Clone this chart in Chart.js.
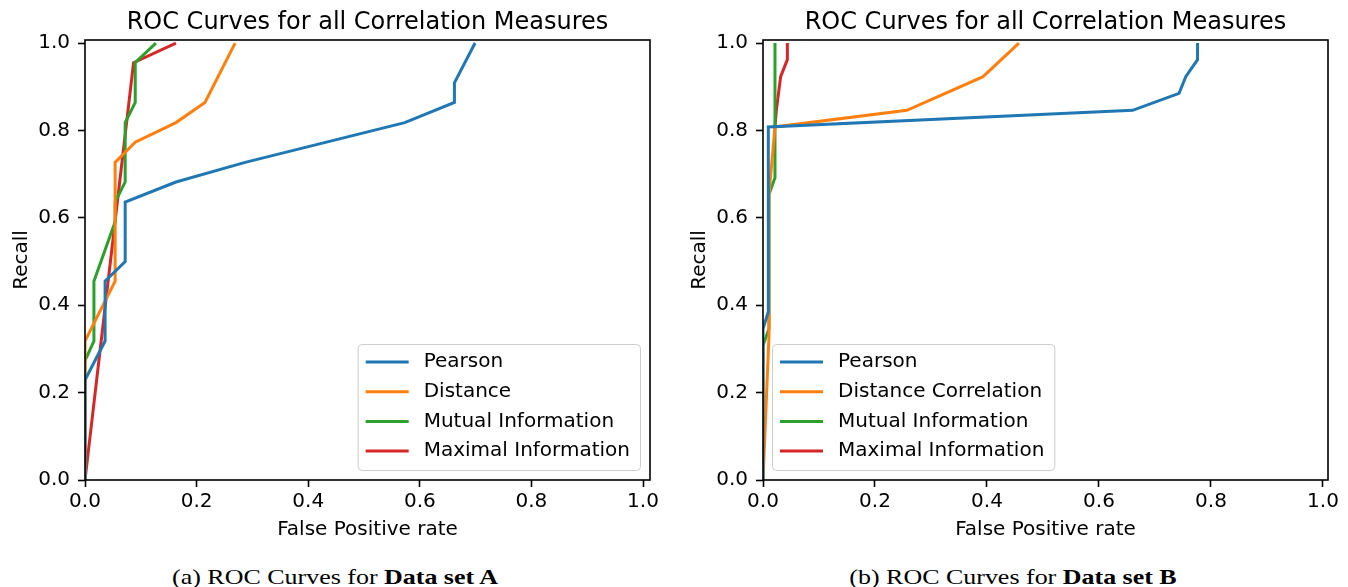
<!DOCTYPE html>
<html>
<head>
<meta charset="utf-8">
<script src="https://cdn.jsdelivr.net/npm/chart.js@4.4.1/dist/chart.umd.min.js"></script>
<style>
  body { margin: 0; background: #fff; width: 1348px; height: 587px; position: relative; overflow: hidden; }
  canvas { position: absolute; top: 0; }
  .caption {
    position: absolute; top: 564px; font-family: "Liberation Serif", serif; font-size: 22px;
    color: #000; white-space: nowrap; transform: translateX(-50%) scaleX(1.18); transform-origin: center;
  }
</style>
</head>
<body>
<canvas id="rocA" width="674" height="550" style="left:0px"></canvas>
<canvas id="rocB" width="670" height="550" style="left:678px"></canvas>
<div class="caption" style="left:335px">(a) ROC Curves for <b>Data set A</b></div>
<div class="caption" style="left:1013px">(b) ROC Curves for <b>Data set B</b></div>
<script>
// Tick labels shared by both panels
const fprTicks = [0.0, 0.2, 0.4, 0.6, 0.8, 1.0];
const recallTicks = [0.0, 0.2, 0.4, 0.6, 0.8, 1.0];

// Series names
const labelsA = ['Pearson', 'Distance', 'Mutual Information', 'Maximal Information'];
const labelsB = ['Pearson', 'Distance Correlation', 'Mutual Information', 'Maximal Information'];
const colors = ['#1f77b4', '#ff7f0e', '#2ca02c', '#d62728'];

// Data set A
const pearsonA_fpr = [0, 0, 0.036, 0.036, 0.072, 0.072, 0.163, 0.287, 0.573, 0.662, 0.662, 0.699];
const pearsonA_rec = [0, 0.229, 0.318, 0.455, 0.5, 0.636, 0.682, 0.727, 0.818, 0.864, 0.909, 1.0];
const distanceA_fpr = [0, 0, 0.054, 0.054, 0.09, 0.163, 0.215, 0.269];
const distanceA_rec = [0, 0.318, 0.455, 0.727, 0.773, 0.818, 0.864, 1.0];
const mutualA_fpr = [0, 0, 0.016, 0.016, 0.054, 0.054, 0.072, 0.072, 0.09, 0.09, 0.127];
const mutualA_rec = [0, 0.273, 0.318, 0.455, 0.591, 0.636, 0.682, 0.818, 0.864, 0.955, 1.0];
const maximalA_fpr = [0, 0.087, 0.163];
const maximalA_rec = [0, 0.955, 1.0];

// Data set B
const pearsonB_fpr = [0, 0, 0.0095, 0.0095, 0.66, 0.743, 0.755, 0.776, 0.776];
const pearsonB_rec = [0, 0.346, 0.385, 0.808, 0.846, 0.885, 0.923, 0.962, 1.0];
const distanceB_fpr = [0, 0.0107, 0.0107, 0.0161, 0.0214, 0.257, 0.393, 0.457];
const distanceB_rec = [0, 0.33, 0.654, 0.731, 0.808, 0.846, 0.923, 1.0];
const mutualB_fpr = [0, 0, 0.0107, 0.0107, 0.0214, 0.0214];
const mutualB_rec = [0, 0.308, 0.346, 0.654, 0.692, 1.0];
const maximalB_fpr = [0.0214, 0.0238, 0.0315, 0.0435, 0.0435];
const maximalB_rec = [0.808, 0.846, 0.923, 0.962, 1.0];

const FONT = '"DejaVu Sans", sans-serif';

function toPoints(xs, ys) {
    return xs.map((x, i) => ({ x: x, y: ys[i] }));
}

// Axes frame drawn on top of the curves, like matplotlib spines
const framePlugin = {
    id: 'frame',
    afterDatasetsDraw(chart) {
        const { ctx, chartArea: ca } = chart;
        ctx.save();
        ctx.strokeStyle = '#000';
        ctx.lineWidth = 1.6;
        ctx.strokeRect(ca.left, ca.top, ca.right - ca.left, ca.bottom - ca.top);
        ctx.restore();
    }
};

// Boxed legend inside the plot area
const boxLegendPlugin = {
    id: 'boxLegend',
    afterDraw(chart) {
        const opts = chart.options.plugins.boxLegend;
        const { ctx, chartArea: ca } = chart;
        const sets = chart.data.datasets;
        ctx.save();
        ctx.font = '20px ' + FONT;
        const maxW = Math.max(...sets.map(d => ctx.measureText(d.label).width));
        const w = 8 + 43 + 15 + maxW + 10;
        const h = 126;
        const x = opts.loc === 'lower right' ? ca.right - 10 - w : ca.left + 9;
        const y = ca.bottom - 10 - h;
        ctx.beginPath();
        ctx.roundRect(x + 0.5, y + 0.5, w, h, 4);
        ctx.fillStyle = 'rgba(255,255,255,0.8)';
        ctx.fill();
        ctx.strokeStyle = '#cccccc';
        ctx.lineWidth = 1;
        ctx.stroke();
        sets.forEach((d, i) => {
            const cy = y + 18 + i * 29.7;
            ctx.beginPath();
            ctx.moveTo(x + 8, cy);
            ctx.lineTo(x + 51, cy);
            ctx.strokeStyle = d.borderColor;
            ctx.lineWidth = 3;
            ctx.stroke();
            ctx.fillStyle = '#000';
            ctx.textBaseline = 'middle';
            ctx.textAlign = 'left';
            ctx.fillText(d.label, x + 66, cy);
        });
        ctx.restore();
    }
};

function makeChart(id, labels, series, xMax, legendLoc) {
    const ctx = document.getElementById(id).getContext('2d');
    return new Chart(ctx, {
        type: 'line',
        data: {
            datasets: series.map((s, i) => ({
                label: labels[i],
                data: toPoints(s[0], s[1]),
                borderColor: colors[i],
                backgroundColor: colors[i],
                borderWidth: 3,
                pointRadius: 0,
                tension: 0,
                fill: false,
                clip: 0
            }))
        },
        options: {
            responsive: false,
            animation: false,
            devicePixelRatio: 1,
            layout: { padding: { left: 0, right: id === 'rocA' ? 24 : 20, top: 0, bottom: 0 } },
            plugins: {
                legend: { display: false },
                tooltip: { enabled: false },
                title: {
                    display: true,
                    text: 'ROC Curves for all Correlation Measures',
                    color: '#000',
                    font: { family: FONT, size: 24, weight: 'normal', lineHeight: 1.2 },
                    padding: { top: 8, bottom: 3.2 },
                    fullSize: false
                },
                boxLegend: { loc: legendLoc }
            },
            scales: {
                x: {
                    type: 'linear',
                    min: 0,
                    max: xMax,
                    afterFit: scale => { scale.height = 70; },
                    afterBuildTicks: scale => { scale.ticks = fprTicks.map(v => ({ value: v })); },
                    grid: { drawOnChartArea: false, tickLength: 7, tickColor: '#000', tickWidth: 1.6 },
                    border: { display: false },
                    ticks: {
                        color: '#000', padding: 3, maxRotation: 0,
                        font: { family: FONT, size: 20 },
                        callback: v => v.toFixed(1)
                    },
                    title: {
                        display: true, text: 'False Positive rate', color: '#000',
                        font: { family: FONT, size: 20 }, padding: { top: 0, bottom: 8 }
                    }
                },
                y: {
                    type: 'linear',
                    min: 0,
                    max: 1.007,
                    afterFit: scale => { scale.width = 85; },
                    afterBuildTicks: scale => { scale.ticks = recallTicks.map(v => ({ value: v })); },
                    grid: { drawOnChartArea: false, tickLength: 7, tickColor: '#000', tickWidth: 1.6 },
                    border: { display: false },
                    ticks: {
                        color: '#000', padding: 8,
                        font: { family: FONT, size: 20 },
                        callback: v => v.toFixed(1)
                    },
                    title: {
                        display: true, text: 'Recall', color: '#000',
                        font: { family: FONT, size: 20 }, padding: { top: 10, bottom: 0 }
                    }
                }
            }
        },
        plugins: [framePlugin, boxLegendPlugin]
    });
}

makeChart('rocA', labelsA, [
    [pearsonA_fpr, pearsonA_rec],
    [distanceA_fpr, distanceA_rec],
    [mutualA_fpr, mutualA_rec],
    [maximalA_fpr, maximalA_rec]
], 1.0125, 'lower right');

makeChart('rocB', labelsB, [
    [pearsonB_fpr, pearsonB_rec],
    [distanceB_fpr, distanceB_rec],
    [mutualB_fpr, mutualB_rec],
    [maximalB_fpr, maximalB_rec]
], 1.009, 'lower left');
</script>
</body>
</html>
